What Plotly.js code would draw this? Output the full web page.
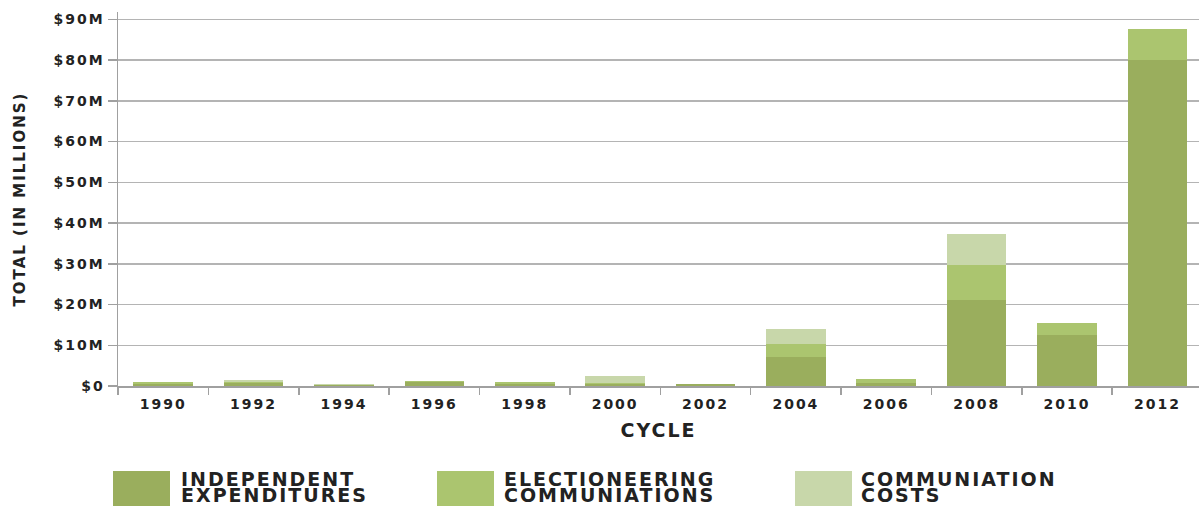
<!DOCTYPE html>
<html>
<head>
<meta charset="utf-8">
<script src="https://cdn.plot.ly/plotly-3.0.1.min.js"></script>
<style>
  html, body { margin: 0; padding: 0; background: #fff; }
  #chart { width: 1199px; height: 506px; }
  svg text { letter-spacing: 2px; }
</style>
</head>
<body>
<div id="chart"></div>
<script>
// ---- data (millions of dollars) ----
const cycles = ['1990','1992','1994','1996','1998','2000','2002','2004','2006','2008','2010','2012'];
const independentExpenditures = [0.6, 0.7, 0.2, 1.0, 0.6, 0.4, 0.4, 7.0, 0.8, 21.0, 12.6, 80.0];
const electioneeringComms     = [0.4, 0.3, 0.0, 0.3, 0.3, 0.4, 0.2, 3.2, 1.0, 8.6, 2.9, 7.7];
const communicationCosts      = [0.0, 0.5, 0.4, 0.0, 0.0, 1.7, 0.0, 3.8, 0.0, 7.6, 0.0, 0.0];

const yTickVals = [0, 10, 20, 30, 40, 50, 60, 70, 80, 90];
const yTickText = ['$0','$10M','$20M','$30M','$40M','$50M','$60M','$70M','$80M','$90M'];

const seriesNames = ['Independent Expenditures', 'Electioneering Communiations', 'Communiation Costs'];
const legendLine1 = ['INDEPENDENT', 'ELECTIONEERING', 'COMMUNIATION'];
const legendLine2 = ['EXPENDITURES', 'COMMUNIATIONS', 'COSTS'];

// ---- styling ----
const colors = ['#9aae5d', '#abc56f', '#c8d7aa'];
const W = 1199, H = 506;
const M = {l: 118, r: 0, t: 12, b: 120};
const PW = W - M.l - M.r, PH = H - M.t - M.b;
const px2x = p => (p - M.l) / PW;
const px2y = p => (H - M.b - p) / PH;

const seriesVals = [independentExpenditures, electioneeringComms, communicationCosts];
const traces = seriesVals.map((vals, i) => ({
  type: 'bar',
  x: cycles,
  y: vals,
  name: seriesNames[i],
  marker: {color: colors[i], line: {width: 0}},
  hoverinfo: 'x+y+name'
}));

const font = {family: '"DejaVu Sans", sans-serif', weight: 'bold', color: '#222'};

// legend drawn with shapes + annotations
const legendBoxX = [113, 437, 795];
const legendTextX = [180, 503, 860];
const shapes = [];
const annotations = [];
legendBoxX.forEach((bx, i) => {
  shapes.push({
    type: 'rect', xref: 'paper', yref: 'paper',
    x0: px2x(bx), x1: px2x(bx + 57),
    y0: px2y(471), y1: px2y(520),
    fillcolor: colors[i], line: {width: 0}, layer: 'above'
  });
  annotations.push({
    xref: 'paper', yref: 'paper', x: px2x(legendTextX[i]), y: px2y(479),
    xanchor: 'left', yanchor: 'middle', showarrow: false, borderpad: 0,
    text: legendLine1[i], font: Object.assign({}, font, {size: 19})
  });
  annotations.push({
    xref: 'paper', yref: 'paper', x: px2x(legendTextX[i]), y: px2y(495),
    xanchor: 'left', yanchor: 'middle', showarrow: false, borderpad: 0,
    text: legendLine2[i], font: Object.assign({}, font, {size: 19})
  });
});

const layout = {
  width: W, height: H,
  margin: M,
  paper_bgcolor: '#fff', plot_bgcolor: '#fff',
  barmode: 'stack',
  bargap: 0.34,
  showlegend: false,
  font: font,
  xaxis: {
    type: 'category',
    range: [-0.5, 11.46],
    showgrid: false,
    showline: true, linecolor: '#a0a0a0', linewidth: 1.5,
    ticks: 'outside', tickson: 'boundaries', ticklen: 7, tickcolor: '#a0a0a0', tickwidth: 1.5,
    ticklabelstandoff: 5,
    tickfont: Object.assign({}, font, {size: 14}),
    title: {text: 'CYCLE', font: Object.assign({}, font, {size: 19}), standoff: 12},
    fixedrange: true
  },
  yaxis: {
    range: [0, 91.8],
    tickvals: yTickVals, ticktext: yTickText,
    showgrid: true, gridcolor: '#b4b4b4', gridwidth: 1.5,
    zeroline: false,
    showline: true, linecolor: '#a0a0a0', linewidth: 1.5,
    ticks: 'outside', ticklen: 9, tickcolor: '#a0a0a0', tickwidth: 1.5,
    tickfont: Object.assign({}, font, {size: 14}),
    title: {text: 'TOTAL (IN MILLIONS)', font: Object.assign({}, font, {size: 15}), standoff: 24},
    fixedrange: true
  },
  shapes: shapes,
  annotations: annotations
};

Plotly.newPlot('chart', traces, layout, {displayModeBar: false, staticPlot: true});
</script>
</body>
</html>
